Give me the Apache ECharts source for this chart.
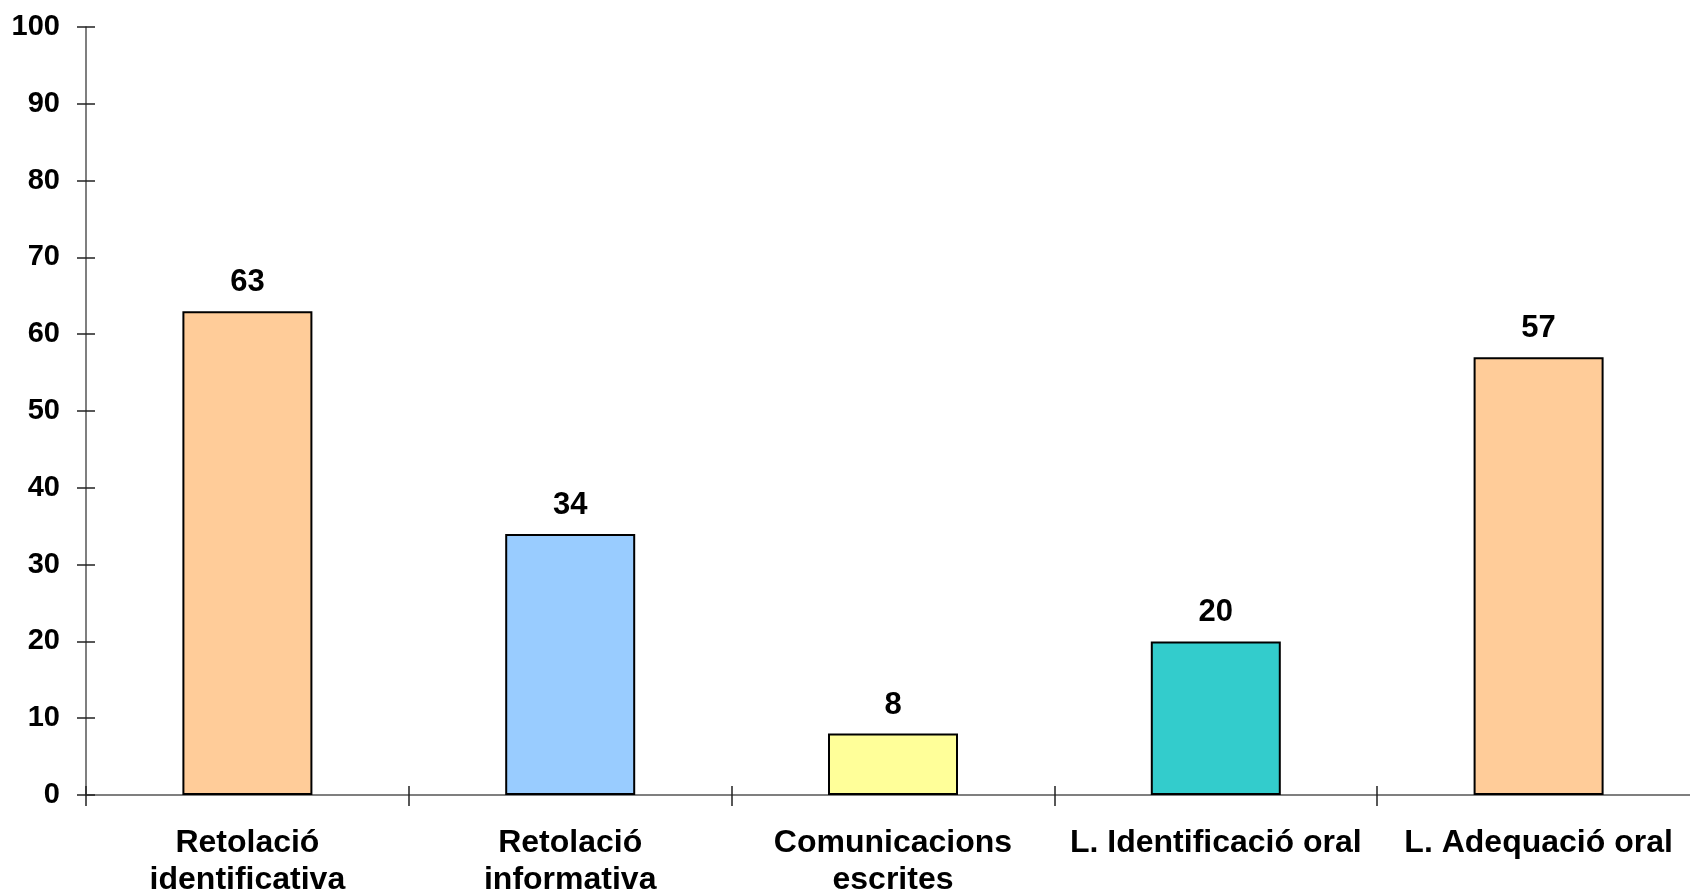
<!DOCTYPE html>
<html>
<head>
<meta charset="utf-8">
<script src="https://cdn.jsdelivr.net/npm/echarts@6/dist/echarts.min.js"></script>
<style>
html,body{margin:0;padding:0;background:#fff;}
#c{width:1690px;height:893px;}
</style>
</head>
<body>
<div id="c"></div>
<script>
const categories = ['Retolació\nidentificativa', 'Retolació\ninformativa', 'Comunicacions\nescrites', 'L. Identificació oral', 'L. Adequació oral'];
const values = [63, 34, 8, 20, 57];
const barColors = ['#FFCC99', '#99CCFF', '#FFFF99', '#33CCCC', '#FFCC99'];
const yMin = 0, yMax = 100, yStep = 10;

const FONT = '"Liberation Sans", Arial, sans-serif';
const chart = echarts.init(document.getElementById('c'), null, {renderer: 'canvas'});
chart.setOption({
  animation: false,
  backgroundColor: '#ffffff',
  grid: {left: 86, top: 27, bottom: 98, width: 1614, containLabel: false, outerBoundsMode: 'none'},
  xAxis: [{
    type: 'category', data: categories, position: 'bottom',
    axisLine: {show: true, lineStyle: {color: '#555', width: 1.5}},
    axisTick: {show: true, inside: false, length: 11, lineStyle: {color: '#222', width: 1.5}},
    axisLabel: {margin: 30, fontFamily: FONT, fontWeight: 'bold', fontSize: 32, lineHeight: 37, color: '#000', interval: 0}
  }, {
    type: 'category', data: categories, position: 'bottom', offset: 0,
    axisLine: {show: false},
    axisTick: {show: true, inside: true, length: 9, lineStyle: {color: '#222', width: 1.5}},
    axisLabel: {show: false}
  }],
  yAxis: [{
    type: 'value', min: yMin, max: yMax, interval: yStep, position: 'left',
    splitLine: {show: false},
    axisLine: {show: true, lineStyle: {color: '#555', width: 1.5}},
    axisTick: {show: true, inside: false, length: 9, lineStyle: {color: '#222', width: 1.5}},
    axisLabel: {margin: 26, fontFamily: FONT, fontWeight: 'bold', fontSize: 29, color: '#000'}
  }, {
    type: 'value', min: yMin, max: yMax, interval: yStep, position: 'left', offset: 0,
    splitLine: {show: false},
    axisLine: {show: false},
    axisTick: {show: true, inside: true, length: 9, lineStyle: {color: '#222', width: 1.5}},
    axisLabel: {show: false}
  }],
  series: [{
    type: 'bar',
    xAxisIndex: 0, yAxisIndex: 0,
    barWidth: 130,
    data: values.map((v, i) => ({value: v, itemStyle: {color: barColors[i]}})),
    itemStyle: {borderColor: '#000', borderWidth: 2},
    label: {show: true, position: 'top', distance: 13, fontFamily: FONT, fontWeight: 'bold', fontSize: 31, color: '#000'}
  }]
});
</script>
</body>
</html>
